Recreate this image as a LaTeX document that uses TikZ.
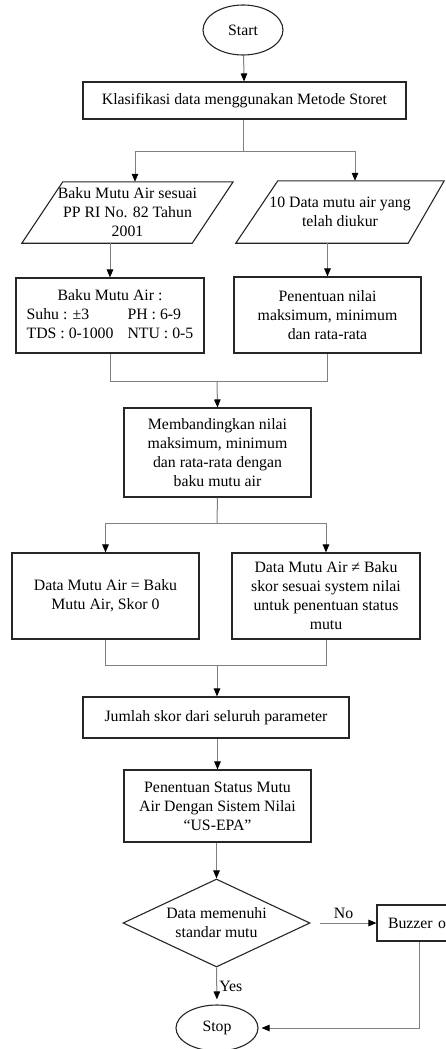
\documentclass[tikz,border=0pt]{standalone}
\usepackage{fontspec}
\setmainfont{Liberation Serif}
\usetikzlibrary{arrows.meta,shapes.geometric,calc}
\begin{document}
\begin{tikzpicture}[x=1pt,y=-1pt,
  base/.style={font=\fontsize{15.8}{19}\selectfont, align=center, inner sep=0pt},
  box/.style={base, draw=black!85, line width=1.1pt, rectangle},
  conn/.style={draw=black!50, line width=1pt},
  arr/.style={conn, -{Triangle[length=8pt,width=6.5pt,color=black]}},
  term/.style={base, draw=black!85, line width=1.1pt, ellipse},
]
\useasboundingbox (0,0) rectangle (446,1049);
\clip (0,0) rectangle (446,1049);

% nodes
\node[term, minimum width=80pt, minimum height=50pt] (start) at (243,30) {Start};
\node[box, minimum width=323pt, minimum height=37pt] (klas) at (244.5,100.5) {Klasifikasi data menggunakan Metode Storet};

\node[base, minimum width=211pt, minimum height=61pt] (p1) at (127.5,212.5) {Baku Mutu Air sesuai\\PP RI No. 82 Tahun\\2001};
\draw[black!85, line width=1.1pt] ($(p1.north west)+(41,0)$) -- (p1.north east) -- ($(p1.south east)+(-41,0)$) -- (p1.south west) -- cycle;
\node[base, minimum width=208pt, minimum height=62pt] (p2) at (340,212) {10 Data mutu air yang\\telah diukur};
\draw[black!85, line width=1.1pt] ($(p2.north west)+(42,0)$) -- (p2.north east) -- ($(p2.south east)+(-36,0)$) -- (p2.south west) -- cycle;

\node[box, minimum width=188pt, minimum height=75pt] (b1) at (110,315.5) {%
  \begin{tabular}{@{}l@{\hspace{14pt}}l@{}}\multicolumn{2}{c}{Baku Mutu Air :}\\ Suhu : ±3 & PH : 6-9\\ TDS : 0-1000 & NTU : 0-5\end{tabular}};
\node[box, minimum width=187pt, minimum height=76pt] (b2) at (327.5,315) {Penentuan nilai\\maksimum, minimum\\dan rata-rata};

\node[box, minimum width=187pt, minimum height=89pt] (comp) at (217.5,452.5) {Membandingkan nilai\\maksimum, minimum\\dan rata-rata dengan\\baku mutu air};

\node[box, minimum width=187pt, minimum height=86pt] (d1) at (105.5,596) {\raisebox{8pt}{\begin{tabular}{@{}c@{}}Data Mutu Air = Baku\\Mutu Air, Skor 0\end{tabular}}};
\node[box, minimum width=188pt, minimum height=86pt] (d2) at (326,596) {Data Mutu Air ≠ Baku\\skor sesuai system nilai\\untuk penentuan status\\mutu};

\node[box, minimum width=266pt, minimum height=41pt] (jml) at (216,717.5) {Jumlah skor dari seluruh parameter};
\node[box, minimum width=187pt, minimum height=72pt] (status) at (217.5,806) {Penentuan Status Mutu\\Air Dengan Sistem Nilai\\“US-EPA”};

\node[base, diamond, draw=black!85, line width=1.1pt, minimum width=187pt, minimum height=88pt, shape aspect=2.1] (dec) at (216.5,923) {Data memenuhi\\standar mutu};

\node[box, minimum width=84pt, minimum height=36pt, text width=84pt, align=left] (buzz) at (419,923) {\hspace*{11pt}Buzzer o};

\node[term, minimum width=82pt, minimum height=46pt] (stop) at (217,1028) {Stop};

% connectors
\draw[arr] (start) -- (klas);

\coordinate (s1) at (243,151);
\draw[conn] (klas.south -| s1) -- (s1);
\draw[conn] (135,151) coordinate (s1l) -- (355,151) coordinate (s1r);
\draw[arr] (s1l) -- (s1l |- p1.north);
\draw[arr] (s1r) -- (s1r |- p2.north);

\draw[arr] (b1.north |- p1.south) -- (b1.north);
\draw[arr] (b2.north |- p2.south) -- (b2.north);

\coordinate (m1) at (217,381);
\draw[conn] (b1.south) -- (b1.south |- m1) -- (b2.south |- m1) -- (b2.south);
\draw[arr] (m1) -- (comp.north);

\coordinate (s2) at (217,523);
\draw[conn] (comp.south) -- (s2);
\draw[conn] (d1.north |- s2) -- (d2.north |- s2);
\draw[arr] (d1.north |- s2) -- (d1.north);
\draw[arr] (d2.north |- s2) -- (d2.north);

\coordinate (m2) at (217,665);
\draw[conn] (d1.south) -- (d1.south |- m2) -- (d2.south |- m2) -- (d2.south);
\draw[arr] (m2) -- (jml.north -| m2);

\draw[arr] (jml.south -| status.north) -- (status.north);
\draw[arr] (status.south -| dec.north) -- (dec.north);

\draw[arr, shorten <=9pt] (dec.east) -- node[base, above=4pt] (nolbl) {No} (buzz.west);
\draw[arr, shorten >=5pt] (dec.south) -- node[base, right=2pt] (yeslbl) {Yes} (stop.north);
\draw[arr, shorten >=3pt] (buzz.south) |- (stop.east);
\end{tikzpicture}
\end{document}
